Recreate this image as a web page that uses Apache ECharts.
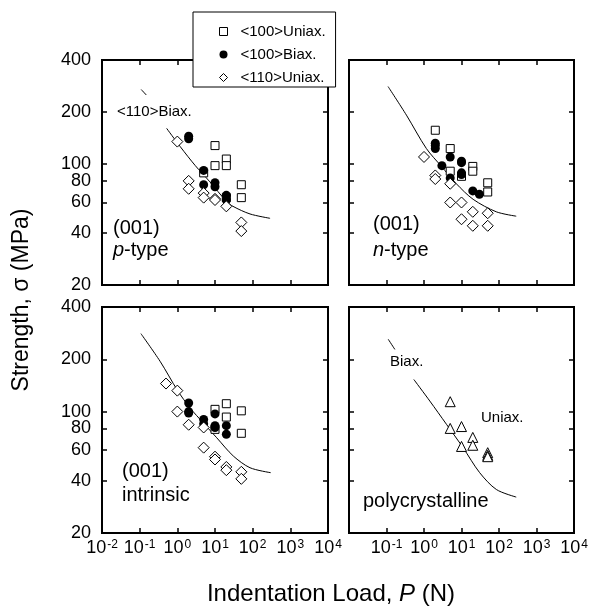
<!DOCTYPE html>
<html>
<head>
<meta charset="utf-8">
<script src="https://cdn.jsdelivr.net/npm/echarts@6/dist/echarts.min.js"></script>
<style>html,body{margin:0;padding:0;background:#fff}#chart{width:590px;height:608px}</style>
</head>
<body>
<div id="chart"></div>
<script>
// tick values
const xTicks = [0.01, 0.1, 1, 10, 100, 1000, 10000];
const xTicksRight = [0.1, 1, 10, 100, 1000, 10000];
const yTicks = [20, 40, 60, 80, 100, 200, 400];

// (001) p-type
const pUniax100 = [[5, 89], [10, 128], [10, 98], [20, 107], [20, 98], [20, 64], [50, 76], [50, 64]];
const pBiax100 = [[2, 145], [2, 140], [5, 92], [5, 76], [10, 78], [10, 74], [20, 66], [20, 62]];
const pUniax110 = [[1, 135], [2, 80], [2, 72], [5, 68], [5, 64], [10, 63], [10, 62], [20, 57], [50, 46], [50, 41]];
const pCurveA = [[0.11, 270], [0.15, 251]];
const pCurveB = [[0.52, 161], [1.2, 126], [3, 98], [7.3, 79], [20, 61], [30, 57], [85, 51.5], [290, 48.6]];

// (001) n-type
const nUniax100 = [[2, 157], [5, 123], [5, 91], [10, 85], [20, 97], [20, 91], [50, 78], [50, 69]];
const nBiax100 = [[2, 132], [2, 128], [2, 123], [3, 98], [5, 110], [5, 83], [10, 104], [10, 102], [10, 89], [10, 87], [20, 70], [30, 67]];
const nUniax110 = [[1, 110], [2, 86], [2, 82], [5, 77], [5, 60], [10, 60], [10, 48], [20, 53], [20, 44], [50, 52], [50, 44]];
const nCurve = [[0.11, 281], [0.34, 192], [1.16, 123], [2.92, 97], [7.3, 77], [20.4, 62.6], [84.6, 53], [288, 50]];

// (001) intrinsic
const iUniax100 = [[10, 103], [10, 79], [20, 111], [20, 93], [50, 101], [50, 75]];
const iBiax100 = [[2, 112], [2, 100], [2, 98], [5, 90], [5, 85], [10, 97], [10, 83], [10, 81], [20, 83], [20, 74]];
const iUniax110 = [[0.5, 145], [1, 132], [1, 100], [2, 84], [5, 81], [5, 62], [10, 55], [10, 53], [20, 48], [20, 46], [50, 45], [50, 41]];
const iCurve = [[0.108, 281], [0.347, 195], [1.02, 132], [2.17, 105], [4.9, 86], [11.1, 70.7], [30.6, 55.5], [85, 47.5], [300, 44.5]];

// polycrystalline
const polyTri = [[5, 114], [5, 80], [10, 82], [10, 63], [20, 71], [20, 64], [50, 58], [50, 56], [50, 55]];
const polyCurveA = [[0.111, 261], [0.167, 228]];
const polyCurveB = [[0.536, 153], [1.43, 115], [3.97, 84.5], [11, 62], [30.5, 44.5], [85, 35.6], [288, 32.2]];

const FONT = '"Liberation Sans", Arial, Helvetica, sans-serif';
const chart = echarts.init(document.getElementById('chart'), null, { renderer: 'canvas' });

const grids = [
  { left: 102, top: 60, width: 226, height: 225 },
  { left: 349, top: 60, width: 225, height: 225 },
  { left: 102, top: 307, width: 226, height: 226 },
  { left: 349, top: 307, width: 225, height: 226 }
].map(g => Object.assign(g, { show: true, borderColor: '#000', borderWidth: 2, backgroundColor: 'transparent', containLabel: false, outerBoundsMode: 'none' }));

const tickStyle = { color: '#000', width: 1.5 };

function xAxes(gi, labels) {
  const base = {
    type: 'log', logBase: 10, gridIndex: gi, min: 0.01, max: 10000,
    axisLine: { show: false },
    splitLine: { show: false },
    minorTick: { show: false },
    axisTick: { show: true, inside: true, length: 5, customValues: xTicks, lineStyle: tickStyle }
  };
  const bottom = Object.assign({}, base, {
    position: 'bottom',
    axisLabel: labels ? {
      show: true, customValues: labels, margin: 6, hideOverlap: false,
      formatter: v => '{b|10}{s|' + Math.round(Math.log10(v)) + '}',
      rich: {
        b: { fontSize: 18, fontFamily: FONT, color: '#000' },
        s: { fontSize: 12, fontFamily: FONT, color: '#000', padding: [0, 0, 7, 1] }
      }
    } : { show: false }
  });
  const top = Object.assign({}, base, { position: 'top', axisLabel: { show: false } });
  return [bottom, top];
}

function yAxes(gi, labels) {
  const base = {
    type: 'log', logBase: 10, gridIndex: gi, min: 20, max: 400,
    axisLine: { show: false },
    splitLine: { show: false },
    minorTick: { show: false },
    axisTick: { show: true, inside: true, length: 5, customValues: yTicks, lineStyle: tickStyle }
  };
  const left = Object.assign({}, base, {
    position: 'left',
    axisLabel: labels ? {
      show: true, customValues: yTicks, margin: 11, hideOverlap: false,
      fontSize: 18, fontFamily: FONT, color: '#000',
      formatter: v => String(Math.round(v))
    } : { show: false }
  });
  const right = Object.assign({}, base, { position: 'right', axisLabel: { show: false } });
  return [left, right];
}

const xAxis = [].concat(xAxes(0, null), xAxes(1, null), xAxes(2, xTicks), xAxes(3, xTicksRight));
const yAxis = [].concat(yAxes(0, true), yAxes(1, false), yAxes(2, true), yAxes(3, false));

function sq(data, gi) {
  return { name: '<100>Uniax.', type: 'scatter', xAxisIndex: gi * 2, yAxisIndex: gi * 2, data: data,
    symbol: 'rect', symbolSize: 8, itemStyle: { color: '#fff', borderColor: '#000', borderWidth: 1, opacity: 1 }, z: 2 };
}
function dot(data, gi) {
  return { name: '<100>Biax.', type: 'scatter', xAxisIndex: gi * 2, yAxisIndex: gi * 2, data: data,
    symbol: 'circle', symbolSize: 9, itemStyle: { color: '#000', borderColor: '#000', borderWidth: 0, opacity: 1 }, z: 3 };
}
function dia(data, gi) {
  return { name: '<110>Uniax.', type: 'scatter', xAxisIndex: gi * 2, yAxisIndex: gi * 2, data: data,
    symbol: 'diamond', symbolSize: 11, itemStyle: { color: '#fff', borderColor: '#000', borderWidth: 1, opacity: 1 }, z: 4 };
}
function curve(name, data, gi) {
  return { name: name, type: 'line', xAxisIndex: gi * 2, yAxisIndex: gi * 2, data: data,
    showSymbol: false, smooth: 0.3, lineStyle: { color: '#000', width: 1 }, z: 1, silent: true };
}

const series = [
  curve('p curve a', pCurveA, 0), curve('p curve b', pCurveB, 0),
  sq(pUniax100, 0), dot(pBiax100, 0), dia(pUniax110, 0),
  curve('n curve', nCurve, 1),
  sq(nUniax100, 1), dot(nBiax100, 1), dia(nUniax110, 1),
  curve('i curve', iCurve, 2),
  sq(iUniax100, 2), dot(iBiax100, 2), dia(iUniax110, 2),
  curve('poly curve a', polyCurveA, 3), curve('poly curve b', polyCurveB, 3),
  { name: 'polycrystalline', type: 'scatter', xAxisIndex: 6, yAxisIndex: 6, data: polyTri,
    symbol: 'triangle', symbolSize: 10, itemStyle: { color: '#fff', borderColor: '#000', borderWidth: 1, opacity: 1 }, z: 3 }
];

function txt(x, y, text, size, extra) {
  return {
    type: 'text', x: x, y: y, z: 10,
    style: Object.assign({ text: text, fontSize: size, fontFamily: FONT, fill: '#000', verticalAlign: 'middle', align: 'left' }, extra || {})
  };
}
const ital = { i: { fontStyle: 'italic', fontSize: 20, fontFamily: FONT, fill: '#000' }, r: { fontSize: 20, fontFamily: FONT, fill: '#000' } };

const option = {
  animation: false,
  backgroundColor: '#fff',
  grid: grids,
  xAxis: xAxis,
  yAxis: yAxis,
  legend: {
    data: [
      { name: '<100>Uniax.', icon: 'rect', itemStyle: { color: '#fff', borderColor: '#000', borderWidth: 1 } },
      { name: '<100>Biax.', icon: 'circle', itemStyle: { color: '#000', borderWidth: 0 } },
      { name: '<110>Uniax.', icon: 'diamond', itemStyle: { color: '#fff', borderColor: '#000', borderWidth: 1 } }
    ],
    orient: 'vertical', left: 193, top: 12,
    backgroundColor: '#fff', borderColor: '#000', borderWidth: 1, borderRadius: 0,
    padding: [11, 10, 1, 26],
    itemWidth: 8, itemHeight: 8, itemGap: 6,
    selectedMode: false,
    textStyle: { fontSize: 15, fontFamily: FONT, color: '#000', lineHeight: 17, padding: [0, 0, 0, 8] },
    z: 20
  },
  series: series,
  graphic: [
    txt(117, 112, '<110>Biax.', 15),
    txt(113, 228, '(001)', 20),
    txt(113, 250, '{i|p}{r|-type}', 20, { rich: ital }),
    txt(373, 224, '(001)', 20),
    txt(373, 250, '{i|n}{r|-type}', 20, { rich: ital }),
    txt(122, 471, '(001)', 20),
    txt(122, 495, 'intrinsic', 20),
    txt(363, 501, 'polycrystalline', 20),
    txt(390, 362, 'Biax.', 15),
    txt(481, 418, 'Uniax.', 15),
    txt(331, 594, '{r|Indentation Load, }{i|P}{r| (N)}', 24, {
      align: 'center',
      rich: { r: { fontSize: 24, fontFamily: FONT, fill: '#000' }, i: { fontSize: 24, fontFamily: FONT, fontStyle: 'italic', fill: '#000' } }
    }),
    { type: 'text', x: 22, y: 300, rotation: Math.PI / 2, z: 10,
      style: { text: 'Strength, σ (MPa)', fontSize: 23, fontFamily: FONT, fill: '#000', align: 'center', verticalAlign: 'middle' } }
  ]
};

chart.setOption(option);
</script>
</body>
</html>
